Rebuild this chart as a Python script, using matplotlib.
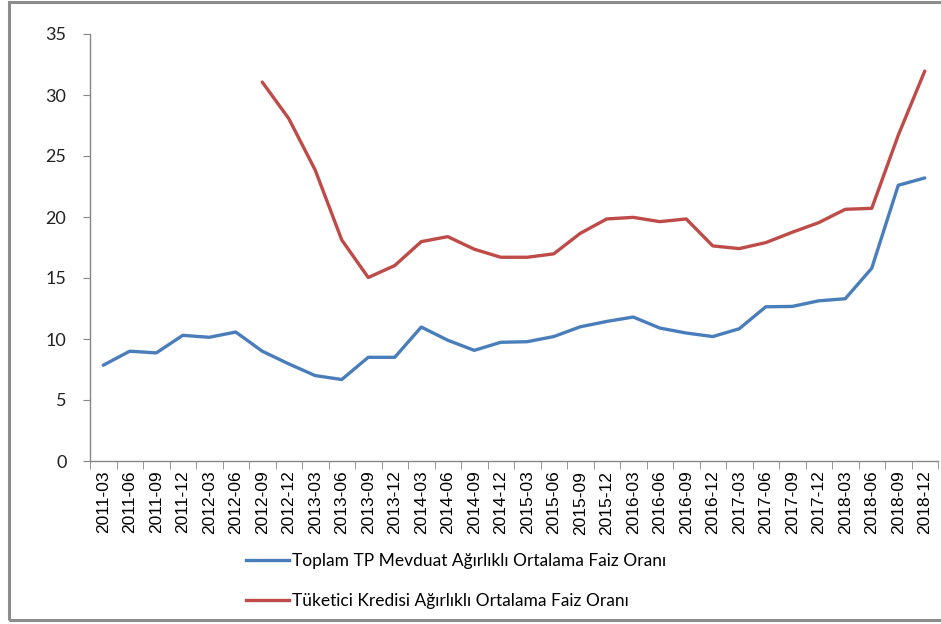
import numpy as np
import matplotlib
matplotlib.use('Agg')
import matplotlib.pyplot as plt
from matplotlib.lines import Line2D

# quarterly periods
periods = ['2011-03', '2011-06', '2011-09', '2011-12', '2012-03', '2012-06',
           '2012-09', '2012-12', '2013-03', '2013-06', '2013-09', '2013-12',
           '2014-03', '2014-06', '2014-09', '2014-12', '2015-03', '2015-06',
           '2015-09', '2015-12', '2016-03', '2016-06', '2016-09', '2016-12',
           '2017-03', '2017-06', '2017-09', '2017-12', '2018-03', '2018-06',
           '2018-09', '2018-12']

mevduat = [7.85, 9.0, 8.86, 10.3, 10.14, 10.57, 9.0, 7.96, 7.0, 6.68,
           8.5, 8.5, 10.98, 9.9, 9.07, 9.73, 9.78, 10.2, 11.0, 11.44,
           11.8, 10.9, 10.49, 10.2, 10.84, 12.64, 12.67, 13.13, 13.3, 15.8,
           22.6, 23.2]

kredi = [np.nan] * 6 + [31.06, 28.07, 23.84, 18.12, 15.04, 16.02, 17.98,
                        18.39, 17.36, 16.7, 16.7, 16.98, 18.66, 19.84, 19.97,
                        19.62, 19.84, 17.63, 17.41, 17.9, 18.75, 19.54,
                        20.63, 20.71, 26.7, 31.96]

label_mevduat = 'Toplam TP Mevduat Ağırlıklı Ortalama Faiz Oranı'
label_kredi = 'Tüketici Kredisi Ağırlıklı Ortalama Faiz Oranı'

blue = '#4A7EBB'
red = '#BE4B48'
axis_gray = '#868686'

fig = plt.figure(figsize=(9.41, 6.24), dpi=100)
ax = fig.add_axes([90 / 941, 1 - 461 / 624, 848 / 941, 427 / 624])

x = np.arange(len(periods))
ax.plot(x, mevduat, color=blue, lw=2.4, solid_capstyle='round')
ax.plot(x, kredi, color=red, lw=2.4, solid_capstyle='round')

ax.set_xlim(-0.5, len(periods) - 0.5)
ax.set_ylim(0, 35)
ax.set_yticks(range(0, 36, 5))

ax.set_xticks(x)
ax.set_xticklabels(periods, rotation=90, fontsize=12.5,
                   family='Liberation Sans')
ax.set_xticks(np.arange(-0.5, len(periods)), minor=True)
ax.tick_params(axis='x', which='major', length=0, pad=7)
ax.tick_params(axis='x', which='minor', length=6, color=axis_gray)
ax.tick_params(axis='y', length=5, color=axis_gray, labelsize=13, pad=12)
for lab in ax.get_yticklabels():
    lab.set_family('Lato')
    lab.set_color('#222222')

for s in ['top', 'right']:
    ax.spines[s].set_visible(False)
for s in ['left', 'bottom']:
    ax.spines[s].set_color(axis_gray)
    ax.spines[s].set_linewidth(1.0)

handles = [Line2D([], [], color=blue, lw=2.4),
           Line2D([], [], color=red, lw=2.4)]
fig.legend(handles, [label_mevduat, label_kredi],
           loc='center left', bbox_to_anchor=(246 / 941, 1 - 581 / 624),
           frameon=False, prop={'family': 'Lato', 'size': 12.5},
           handlelength=2.5, handletextpad=0.15, labelspacing=1.35,
           borderpad=0, borderaxespad=0)

# outer chart frame
fig.add_artist(plt.Rectangle((9 / 941, 4 / 624), 1.0, 618 / 624,
                             transform=fig.transFigure, fill=False,
                             edgecolor='#8c8c8c', lw=2.2))

plt.savefig('out.png', dpi=100)
